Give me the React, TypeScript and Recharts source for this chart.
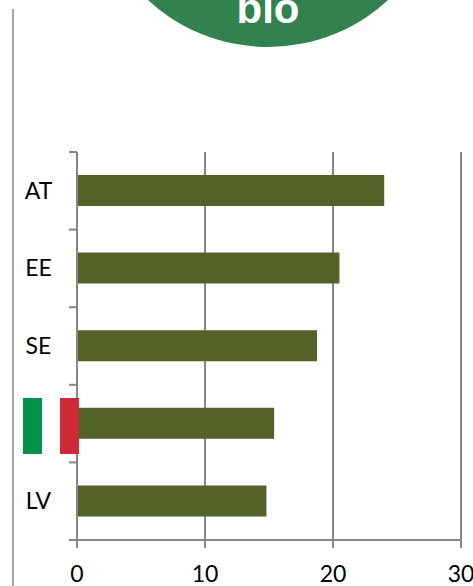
import { BarChart, Bar, XAxis, YAxis, CartesianGrid } from "recharts";

const countries = ["AT", "EE", "SE", "IT", "LV"];
const shares = [24.0, 20.5, 18.75, 15.4, 14.8];
const xTicks = [0, 10, 20, 30];

const data = countries.map((name, i) => ({ name, value: shares[i] }));

const AXIS = "#868686";
const FONT = "Lato, 'Open Sans', sans-serif";
const PLOT_LEFT = 77;
const PLOT_TOP = 152;
const PLOT_BOTTOM = 540;
const BAND = (PLOT_BOTTOM - PLOT_TOP) / countries.length;

// band edge ticks, the category axis only gives us centres
function CountryTick({ y, payload, index }: any) {
  const edge = y - BAND / 2;
  return (
    <g>
      <line x1={PLOT_LEFT - 8} x2={PLOT_LEFT} y1={edge} y2={edge} stroke={AXIS} strokeWidth={2} />
      {index === countries.length - 1 && (
        <line
          x1={PLOT_LEFT - 8}
          x2={PLOT_LEFT}
          y1={edge + BAND}
          y2={edge + BAND}
          stroke={AXIS}
          strokeWidth={2}
        />
      )}
      {payload.value !== "IT" && (
        <text x={38.5} y={y + 8} textAnchor="middle" fontSize={23} fontFamily={FONT} fill="#000">
          {payload.value}
        </text>
      )}
    </g>
  );
}

export default function App() {
  return (
    <div
      style={{
        position: "absolute",
        left: 0,
        top: 0,
        width: 473,
        height: 586,
        overflow: "hidden",
        background: "#fff",
      }}
    >
      <div style={{ position: "absolute", left: 12, top: 9, width: 2, height: 577, background: "#a6a6a6" }} />
      <div
        style={{
          position: "absolute",
          left: 268 - 177,
          top: 46 - 353,
          width: 354,
          height: 354,
          borderRadius: "50%",
          background: "#31824e",
        }}
      />
      <div
        style={{
          position: "absolute",
          left: 168,
          width: 200,
          top: -15,
          textAlign: "center",
          color: "#fff",
          fontFamily: "'Liberation Sans', Arial, sans-serif",
          fontWeight: 700,
          fontSize: 42,
          lineHeight: "48px",
        }}
      >
        bio
      </div>

      <BarChart
        width={473}
        height={586}
        data={data}
        layout="vertical"
        margin={{ top: PLOT_TOP, right: 12, bottom: 0, left: 17 }}
        style={{ position: "absolute", left: 0, top: 0 }}
      >
        <CartesianGrid horizontal={false} stroke={AXIS} strokeWidth={2} />
        <XAxis
          type="number"
          domain={[0, 30]}
          ticks={xTicks}
          height={46}
          interval={0}
          tickSize={8}
          tickMargin={18}
          stroke={AXIS}
          strokeWidth={2}
          tick={{ fontSize: 23, fontFamily: FONT, fill: "#000" }}
        />
        <YAxis
          type="category"
          dataKey="name"
          width={60}
          interval={0}
          tickLine={false}
          stroke={AXIS}
          strokeWidth={2}
          tick={<CountryTick />}
        />
        <Bar dataKey="value" fill="#536328" barSize={31} isAnimationActive={false} />
      </BarChart>

      {/* italian flag replaces the IT label */}
      <div style={{ position: "absolute", left: 23, top: 398, width: 56, height: 56, display: "flex" }}>
        <div style={{ flex: 1, background: "#009246" }} />
        <div style={{ flex: 1, background: "#fff" }} />
        <div style={{ flex: 1, background: "#ce2b37" }} />
      </div>
    </div>
  );
}
